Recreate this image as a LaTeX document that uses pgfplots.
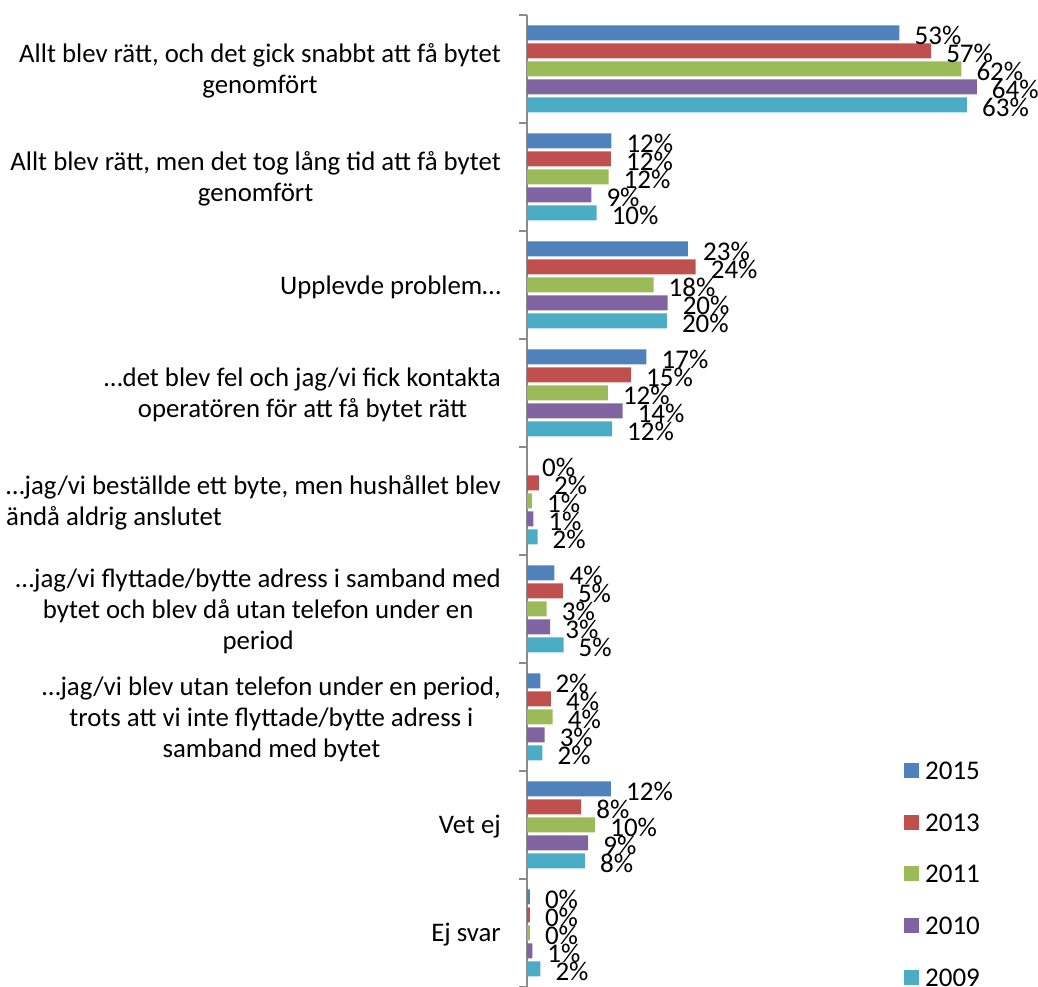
\documentclass[border=0pt]{standalone}
\usepackage{pgfplots}
\pgfplotsset{compat=1.18}
\usepackage{pgfplotstable}
\usepackage{calc}
\usepackage{fontspec}
\setmainfont{Carlito}
\definecolor{c15}{HTML}{4F81BD}
\definecolor{c13}{HTML}{C0504D}
\definecolor{c11}{HTML}{9BBB59}
\definecolor{c10}{HTML}{8064A2}
\definecolor{c09}{HTML}{4BACC6}
% y = category position (8 = top), x = value, l = label
\pgfplotstableread{
y x l
8 53.0 53
7 12.0 12
6 22.9 23
5 17.0 17
4 0.0 0
3 3.9 4
2 1.9 2
1 11.95 12
0 0.4 0
}\tabA
\pgfplotstableread{
y x l
8 57.5 57
7 11.95 12
6 24.0 24
5 14.8 15
4 1.7 2
3 5.1 5
2 3.4 4
1 7.7 8
0 0.4 0
}\tabB
\pgfplotstableread{
y x l
8 61.8 62
7 11.6 12
6 18.0 18
5 11.5 12
4 0.7 1
3 2.8 3
2 3.65 4
1 9.7 10
0 0.4 0
}\tabC
\pgfplotstableread{
y x l
8 64.0 64
7 9.15 9
6 20.0 20
5 13.6 14
4 0.9 1
3 3.3 3
2 2.5 3
1 8.7 9
0 0.75 1
}\tabD
\pgfplotstableread{
y x l
8 62.6 63
7 9.9 10
6 19.9 20
5 12.1 12
4 1.5 2
3 5.2 5
2 2.2 2
1 8.25 8
0 1.9 2
}\tabE
\begin{document}
\begin{tikzpicture}
\useasboundingbox (0,0) rectangle (1038pt,987pt);
\begin{axis}[
  at={(527pt,0pt)}, anchor=south west,
  scale only axis, width=506pt, height=972pt,
  xmin=0, xmax=72, ymin=-0.5, ymax=8.5,
  clip=false,
  xbar, bar width=15pt,
  axis x line=none,
  axis y line*=left,
  y axis line style={draw=gray!90, line width=1.2pt},
  ytick={0,...,8},
  major tick length=0pt,
  extra y ticks={-0.5,0.5,1.5,2.5,3.5,4.5,5.5,6.5,7.5,8.5},
  extra y tick labels={},
  extra y tick style={major tick length=8pt, tick align=outside, tick style={draw=gray!90, line width=1.2pt}},
  yticklabels={
    {Ej svar},
    {Vet ej},
    {…jag/vi blev utan telefon under en period,\\trots att vi inte flyttade/bytte adress i\\samband med bytet},
    {…jag/vi flyttade/bytte adress i samband med\\bytet och blev då utan telefon under en\\period},
    {…jag/vi beställde ett byte, men hushållet blev\\\makebox[\widthof{…jag/vi beställde ett byte, men hushållet blev}][l]{ändå aldrig anslutet}},
    {…det blev fel och jag/vi fick kontakta\\operatören för att få bytet rätt},
    {Upplevde problem…},
    {Allt blev rätt, men det tog lång tid att få bytet\\genomfört},
    {Allt blev rätt, och det gick snabbt att få bytet\\genomfört}
  },
  yticklabel style={font=\fontsize{26.8}{31}\selectfont, align=center, anchor=east, inner sep=0pt, xshift=-26pt, yshift=-2pt},
  point meta=explicit,
  nodes near coords={\pgfmathprintnumber{\pgfplotspointmeta}\%},
  every node near coord/.append style={font=\fontsize{27}{30}\selectfont, anchor=west, inner sep=0pt, xshift=15pt, yshift=-2pt, text=black},
  /pgf/number format/assume math mode=true,
  every axis plot post/.append style={draw=none,
    legend image code/.code={\fill[##1] (0pt,-7pt) rectangle (15pt,8pt);}},
  legend style={draw=none, fill=none, inner sep=0pt, anchor=north west,
    at={(rel axis cs:0.745,0.231)}, font=\fontsize{27}{30}\selectfont,
    nodes={inner sep=0pt, text height=17pt, text depth=0pt},
    row sep=34.6pt, column sep=6pt},
  legend cell align=left,
]
\addplot[fill=c15, bar shift=36pt] table[x=x,y=y,meta=l] {\tabA};
\addplot[fill=c13, bar shift=18pt] table[x=x,y=y,meta=l] {\tabB};
\addplot[fill=c11, bar shift=0pt] table[x=x,y=y,meta=l] {\tabC};
\addplot[fill=c10, bar shift=-18pt] table[x=x,y=y,meta=l] {\tabD};
\addplot[fill=c09, bar shift=-36pt] table[x=x,y=y,meta=l] {\tabE};
\legend{2015,2013,2011,2010,2009}
\end{axis}
\end{tikzpicture}
\end{document}
